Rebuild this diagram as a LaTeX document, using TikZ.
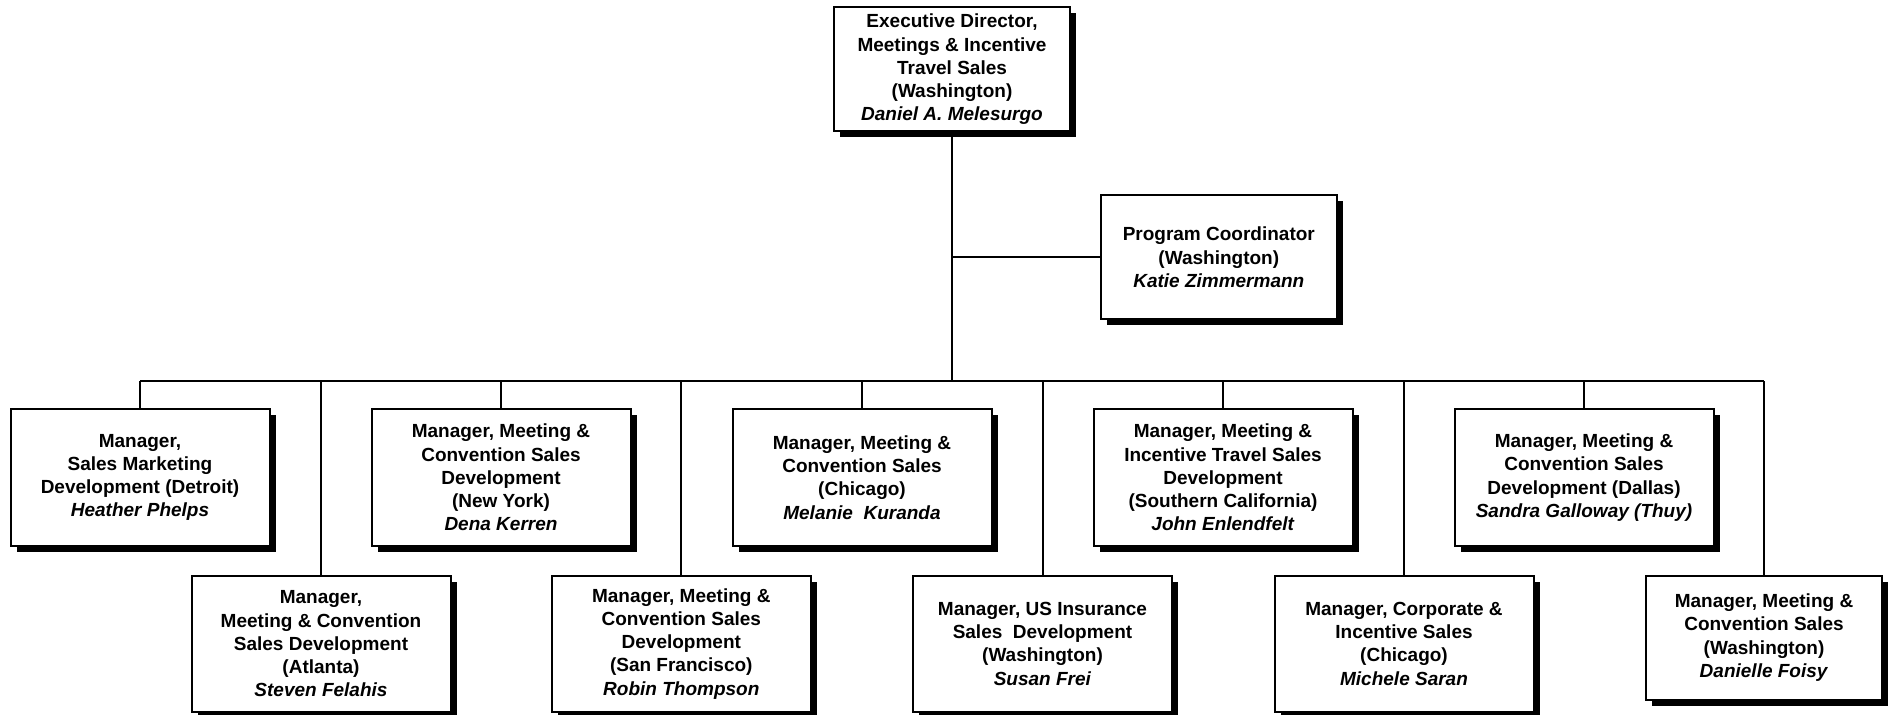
\documentclass[tikz,border=0pt]{standalone}
\usepackage{fontspec}
\setmainfont{Liberation Sans}
\usepackage{tikz}
\usetikzlibrary{shadows,calc}
\usetikzlibrary{shapes.misc, positioning}

\tikzset{
  post/.style={draw, line width=1pt, fill=white, align=center, inner sep=0pt,
    font=\fontsize{9.5pt}{11.6pt}\selectfont\bfseries,
    drop shadow={shadow xshift=3pt, shadow yshift=-3pt, opacity=1, fill=black}},
  widepost/.style={post, minimum width=129.5pt, minimum height=68.3pt},
  smallpost/.style={post, minimum width=117.7pt, minimum height=62pt},
  wire/.style={line width=1pt}
}
\newcommand{\who}[1]{\textit{#1}}

\begin{document}
\begin{tikzpicture}[x=0.5pt, y=-0.5pt]
    \useasboundingbox (0,0) rectangle (1889,715);

    % top of the chart
    \node[smallpost] (exec) at (952,69.3) {Executive Director,\\Meetings \& Incentive\\Travel Sales\\(Washington)\\\who{Daniel A. Melesurgo}};
    \node[smallpost] (coord) at (1218.8,257.3) {Program Coordinator\\(Washington)\\\who{Katie Zimmermann}};
    \coordinate (bus) at (952,381);

    % upper row
    \node[widepost] (detroit) at (140,477.5) {Manager,\\Sales Marketing\\Development (Detroit)\\\who{Heather Phelps}};
    \node[widepost] (newyork) at (501,477.5) {Manager, Meeting \&\\Convention Sales\\Development\\(New York)\\\who{Dena Kerren}};
    \node[widepost] (chicago) at (862,477.5) {Manager, Meeting \&\\Convention Sales\\(Chicago)\\\who{Melanie~~Kuranda}};
    \node[widepost] (socal) at (1223,477.5) {Manager, Meeting \&\\Incentive Travel Sales\\Development\\(Southern California)\\\who{John Enlendfelt}};
    \node[widepost] (dallas) at (1584,477.5) {Manager, Meeting \&\\Convention Sales\\Development (Dallas)\\\who{Sandra Galloway (Thuy)}};

    % lower row
    \node[widepost] (atlanta) at (321,643.8) {Manager,\\Meeting \& Convention\\Sales Development\\(Atlanta)\\\who{Steven Felahis}};
    \node[widepost] (sanfran) at (681.3,643.8) {Manager, Meeting \&\\Convention Sales\\Development\\(San Francisco)\\\who{Robin Thompson}};
    \node[widepost] (insur) at (1042.5,643.8) {Manager, US Insurance\\Sales~~Development\\(Washington)\\\who{Susan Frei}};
    \node[widepost] (corp) at (1404,643.8) {Manager, Corporate \&\\Incentive Sales\\(Chicago)\\\who{Michele Saran}};
    \node[smallpost] (wash) at (1764,637.5) {Manager, Meeting \&\\Convention Sales\\(Washington)\\\who{Danielle Foisy}};

    % lines
    \draw[wire] (exec.south) -- (bus);
    \draw[wire] (coord.west) -- (coord.west -| exec.south);
    \draw[wire] (detroit.north |- bus) -- (wash.north |- bus);
    \foreach \n in {detroit,newyork,chicago,socal,dallas,atlanta,sanfran,insur,corp,wash}
        \draw[wire] (\n.north) -- (\n.north |- bus);
\end{tikzpicture}
\end{document}
